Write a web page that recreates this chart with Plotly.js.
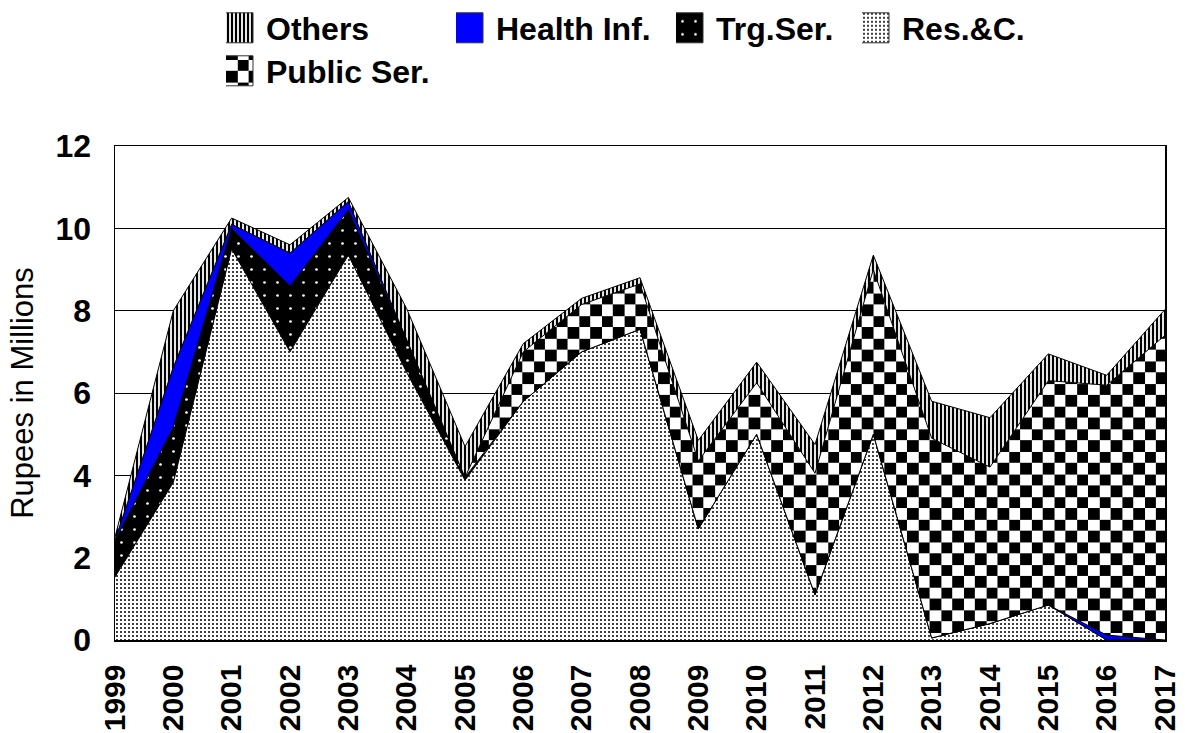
<!DOCTYPE html>
<html>
<head>
<meta charset="utf-8">
<script src="https://cdn.plot.ly/plotly-3.0.1.min.js"></script>
<style>
  html, body { margin: 0; padding: 0; background: #ffffff; }
  #chart { width: 1185px; height: 733px; }
</style>
</head>
<body>
<div id="chart"></div>
<script>
// ---- data ----
var years = [1999, 2000, 2001, 2002, 2003, 2004, 2005, 2006, 2007, 2008,
             2009, 2010, 2011, 2012, 2013, 2014, 2015, 2016, 2017];
var yearLabels = years.map(String);
var resC      = [1.53, 3.83, 9.50, 7.00, 9.35, 6.50, 3.88, 5.80, 7.00, 7.55,
                 2.70, 5.00, 1.10, 5.00, 0.05, 0.40, 0.85, 0.00, 0.00];
var trgSer    = [0.88, 1.34, 0.50, 1.60, 1.10, 0.78, 0.07, 0.00, 0.00, 0.00,
                 0.00, 0.00, 0.00, 0.00, 0.00, 0.00, 0.00, 0.00, 0.00];
var healthInf = [0.02, 1.46, 0.10, 0.80, 0.20, 0.02, 0.00, 0.00, 0.00, 0.00,
                 0.00, 0.00, 0.00, 0.00, 0.00, 0.00, 0.00, 0.12, 0.00];
var publicSer = [0.00, 0.00, 0.00, 0.00, 0.00, 0.00, 0.00, 1.20, 1.15, 1.10,
                 1.65, 1.25, 2.95, 4.00, 4.85, 3.80, 5.45, 6.07, 7.40];
var others    = [0.07, 1.37, 0.15, 0.20, 0.10, 0.75, 0.75, 0.20, 0.15, 0.15,
                 0.50, 0.50, 0.70, 0.35, 0.90, 1.20, 0.65, 0.24, 0.63];
var yTicks = [0, 2, 4, 6, 8, 10, 12];

var FONT = '"Liberation Sans", Arial, Helvetica, sans-serif';
var line = {color: '#000000', width: 1};

function area(name, y, legend, extra) {
  var t = {
    type: 'scatter', mode: 'lines', x: years, y: y, name: name,
    stackgroup: 'one', line: line, legend: legend, hoverinfo: 'skip'
  };
  for (var k in extra) t[k] = extra[k];
  return t;
}

var traces = [
  area('Res.&C.', resC, 'legend4', {
    fillcolor: '#ffffff',
    fillpattern: {shape: '.', bgcolor: '#ffffff', fgcolor: '#000000', size: 4, solidity: 0.2, fillmode: 'replace'}
  }),
  area('Trg.Ser.', trgSer, 'legend3', {
    fillcolor: '#000000',
    fillpattern: {shape: '.', bgcolor: '#000000', fgcolor: '#ffffff', size: 13, solidity: 0.035, fillmode: 'replace'}
  }),
  area('Health Inf.', healthInf, 'legend2', {
    fillcolor: '#0000ff'
  }),
  area('Public Ser.', publicSer, 'legend5', {
    fillcolor: '#ffffff',
    fillpattern: {shape: 'x', bgcolor: '#ffffff', fgcolor: '#010101', size: 16, solidity: 0.5, fillmode: 'replace'}
  }),
  area('Others', others, 'legend', {
    fillcolor: '#e6e6e6',
    fillpattern: {shape: '|', bgcolor: '#e6e6e6', fgcolor: '#000000', size: 4, solidity: 0.5, fillmode: 'replace'}
  })
];

function leg(px, py) {
  return {
    x: px / 1185, y: 1 - py / 733, xref: 'container', yref: 'container',
    xanchor: 'left', yanchor: 'middle',
    orientation: 'h', bgcolor: 'rgba(0,0,0,0)', borderwidth: 0,
    font: {family: FONT, size: 32, color: '#000000', weight: 'bold'}
  };
}

var layout = {
  width: 1185, height: 733,
  margin: {l: 115, r: 20, t: 146, b: 93, pad: 0, autoexpand: false},
  paper_bgcolor: '#ffffff', plot_bgcolor: '#ffffff',
  showlegend: true,
  legend:  leg(226, 28),
  legend2: leg(456, 28),
  legend3: leg(676, 28),
  legend4: leg(862, 28),
  legend5: leg(226, 71),
  xaxis: {
    range: [1999, 2017], tickmode: 'array', tickvals: years, ticktext: yearLabels,
    tickangle: -90, ticks: '', showgrid: false, zeroline: false,
    showline: true, mirror: true, linecolor: '#000000', linewidth: 1.5,
    ticklabelstandoff: 11, automargin: false,
    tickfont: {family: FONT, size: 30, color: '#000000', weight: 'bold'}
  },
  yaxis: {
    range: [0, 12], tickmode: 'array', tickvals: yTicks, ticks: '',
    showgrid: true, gridcolor: '#000000', gridwidth: 1, zeroline: false,
    showline: true, mirror: true, linecolor: '#000000', linewidth: 1.5,
    ticklabelstandoff: 16, automargin: false,
    tickfont: {family: FONT, size: 32, color: '#000000', weight: 'bold'},
    title: {text: 'Rupees in Millions', standoff: 12, font: {family: FONT, size: 31, color: '#000000'}}
  }
};

function patchPatterns() {
  var NS = 'http://www.w3.org/2000/svg';
  document.querySelectorAll('pattern').forEach(function (p) {
    var html = p.innerHTML.replace(/\s/g, '').toLowerCase();
    if (html.indexOf('rgb(1,1,1)') >= 0 || html.indexOf('#010101') >= 0) {
      var w = parseFloat(p.getAttribute('width')) || 16, h = parseFloat(p.getAttribute('height')) || 16;
      while (p.firstChild) p.removeChild(p.firstChild);
      var bg = document.createElementNS(NS, 'rect');
      bg.setAttribute('x', 0); bg.setAttribute('y', 0);
      bg.setAttribute('width', w); bg.setAttribute('height', h);
      bg.setAttribute('fill', '#ffffff');
      p.appendChild(bg);
      var sq = document.createElementNS(NS, 'path');
      var a = w / 2, b = h / 2;
      sq.setAttribute('d', 'M0,0H' + a + 'V' + b + 'H0Z M' + a + ',' + b + 'H' + w + 'V' + h + 'H' + a + 'Z');
      sq.setAttribute('fill', '#000000');
      sq.setAttribute('shape-rendering', 'crispEdges');
      p.appendChild(sq);
    }
  });
  var sqd = 'M-3,-15h30v30h-30z';
  document.querySelectorAll('.legendfill path').forEach(function (el) { el.setAttribute('d', sqd); });
  document.querySelectorAll('.legendlines path').forEach(function (el) {
    el.setAttribute('d', sqd);
    el.style.fill = 'none'; el.style.stroke = '#333333'; el.style.strokeWidth = '1px';
  });
}

Plotly.newPlot('chart', traces, layout, {staticPlot: true, displayModeBar: false}).then(patchPatterns);
</script>
</body>
</html>
